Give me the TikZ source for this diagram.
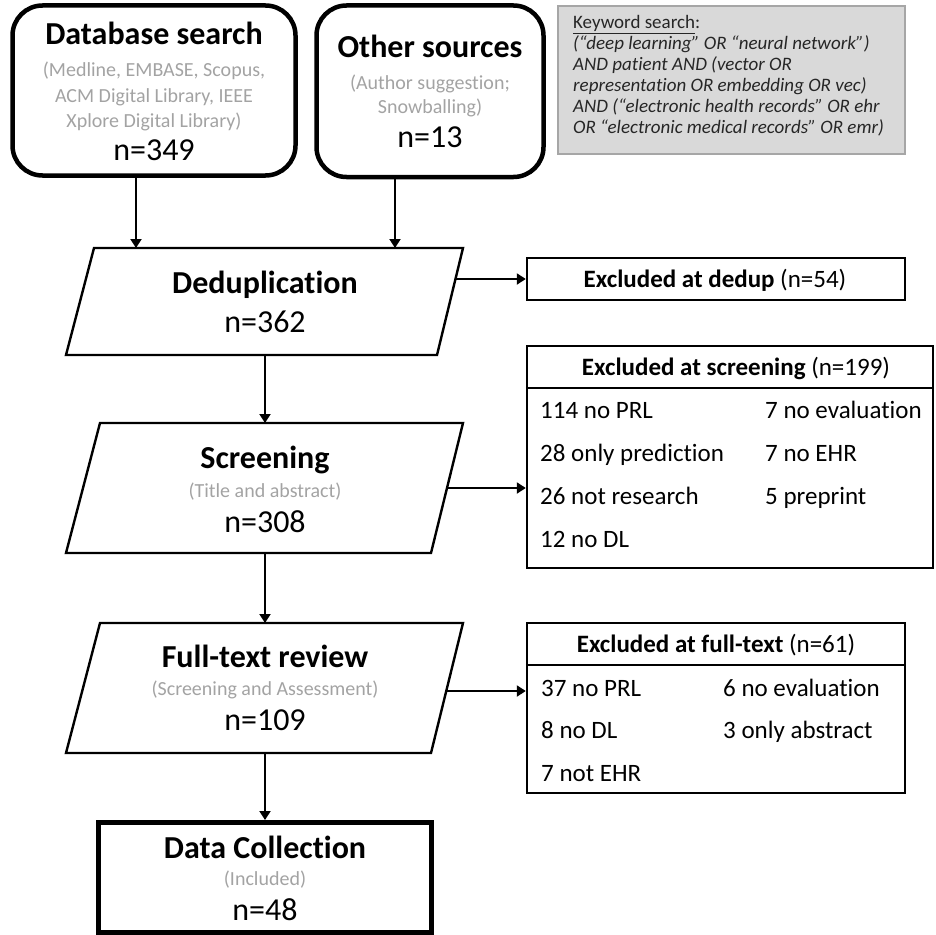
\documentclass[tikz,border=0pt]{standalone}
\usepackage{fontspec}
\setmainfont{Carlito}[Ligatures=NoCommon]
\usetikzlibrary{arrows.meta}
\definecolor{subgray}{HTML}{A3A3A3}
\definecolor{kwfill}{HTML}{D9D9D9}
\definecolor{kwline}{HTML}{A6A6A6}
\definecolor{kwtext}{HTML}{262626}
\begin{document}
\begin{tikzpicture}[x=1pt,y=-1pt,
  rbox/.style={draw, line width=4.5pt, rounded corners=30pt, inner sep=0},
  dbox/.style={draw, line width=5pt, inner sep=0},
  para/.style={draw, line width=2.4pt, line join=miter},
  xbox/.style={draw, line width=2.4pt, inner sep=0},
  xline/.style={line width=2.4pt},
  kwbox/.style={draw=kwline, fill=kwfill, line width=1.2pt, inner sep=0},
  arr/.style={line width=2pt, -{Triangle[width=11pt,length=9pt]}},
  ttl/.style={font=\fontsize{32}{36}\selectfont\bfseries, anchor=base, inner sep=0},
  num/.style={font=\fontsize{32}{36}\selectfont, anchor=base, inner sep=0},
  sub/.style={font=\fontsize{20}{24}\selectfont, text=subgray, anchor=base, inner sep=0},
  xhead/.style={font=\fontsize{25}{29}\selectfont, anchor=base, inner sep=0},
  xrow/.style={font=\fontsize{25}{29}\selectfont, anchor=base west, inner sep=0},
  kwt/.style={font=\fontsize{19}{22}\selectfont\itshape, text=kwtext, anchor=base west, inner sep=0}
]
\useasboundingbox (0,0) rectangle (936,934);

% --- top sources ---
\node[rbox, minimum width=283pt, minimum height=170pt] (db) at (154,90.5) {};
\node[ttl] (dbT) at (154,45) {Database search};
\node[sub] (dbS1) at (154,77) {(Medline, EMBASE, Scopus,};
\node[sub] (dbS2) at (154,102) {ACM Digital Library, IEEE};
\node[sub] (dbS3) at (154,127) {Xplore Digital Library)};
\node[num] (dbN) at (154,160) {n=349};

\node[rbox, minimum width=227pt, minimum height=171.5pt] (other) at (430,91.25) {};
\node[ttl] (oT) at (430,58) {Other sources};
\node[sub] (oS1) at (430,89) {(Author suggestion;};
\node[sub] (oS2) at (430,113) {Snowballing)};
\node[num] (oN) at (430,147) {n=13};

% --- keyword box ---
\node[kwbox, minimum width=347pt, minimum height=148pt] (kw) at (731.5,80) {};
\node[kwt, font=\fontsize{19}{22}\selectfont\upshape] (kw1) at (573,29) {\underline{Keyword search}:};
\node[kwt] (kw2) at (573,49.8) {(“deep learning” OR “neural network”)};
\node[kwt] (kw3) at (573,70.6) {AND patient AND (vector OR};
\node[kwt] (kw4) at (573,91.4) {representation OR embedding OR vec)};
\node[kwt] (kw5) at (573,112.2) {AND (“electronic health records” OR ehr};
\node[kwt] (kw6) at (573,133) {OR “electronic medical records” OR emr)};

% --- deduplication ---
\draw[para] (94,248) coordinate (ded-tl) -- (463,248) coordinate (ded-tr)
  -- (437,355) coordinate (ded-br) -- (66,355) coordinate (ded-bl) -- cycle;
\coordinate (dedIn1) at (136,248);
\coordinate (dedIn2) at (395,248);
\coordinate (dedOut) at (265,355);
\coordinate (dedR) at (455.5,279);
\node[ttl] (dedT) at (265,293) {Deduplication};
\node[num] (dedN) at (265,332) {n=362};

% --- screening ---
\draw[para] (100,423) coordinate (scr-tl) -- (463,423) coordinate (scr-tr)
  -- (431,553) coordinate (scr-br) -- (66,553) coordinate (scr-bl) -- cycle;
\coordinate (sIn) at (265,423);
\coordinate (sOut) at (265,553);
\coordinate (sR) at (447,488);
\node[ttl] (sT) at (265,468) {Screening};
\node[sub] (sS) at (265,497) {(Title and abstract)};
\node[num] (sN) at (265,532) {n=308};

% --- full-text ---
\draw[para] (100,623) coordinate (ful-tl) -- (463,623) coordinate (ful-tr)
  -- (431,753) coordinate (ful-br) -- (66,753) coordinate (ful-bl) -- cycle;
\coordinate (fIn) at (265,623);
\coordinate (fOut) at (265,753);
\coordinate (fR) at (446.3,691);
\node[ttl] (fT) at (265,667) {Full-text review};
\node[sub] (fS) at (265,695) {(Screening and Assessment)};
\node[num] (fN) at (265,730) {n=109};

% --- data collection ---
\node[dbox, minimum width=333pt, minimum height=110pt] (data) at (265,877.5) {};
\node[ttl] (dT) at (265,858) {Data Collection};
\node[sub] (dS) at (265,885) {(Included)};
\node[num] (dN) at (265,920) {n=48};

% --- exclusion boxes ---
\node[xbox, minimum width=378pt, minimum height=42pt] (exded) at (716,279) {};
\node[xhead] (exdedT) at (715,287) {\textbf{Excluded at dedup} (n=54)};

\node[xbox, minimum width=406pt, minimum height=222pt] (exscr) at (730,457) {};
\draw[xline] (exscr.west |- 0,388) -- (exscr.east |- 0,388);
\node[xhead] (exscrT) at (736,375) {\textbf{Excluded at screening} (n=199)};
\node[xrow] (es1) at (540,418) {114 no PRL};
\node[xrow] (es2) at (540,461) {28 only prediction};
\node[xrow] (es3) at (540,504) {26 not research};
\node[xrow] (es4) at (540,547) {12 no DL};
\node[xrow] (es5) at (765,418) {7 no evaluation};
\node[xrow] (es6) at (765,461) {7 no EHR};
\node[xrow] (es7) at (765,504) {5 preprint};

\node[xbox, minimum width=378pt, minimum height=170pt] (exful) at (716,708) {};
\draw[xline] (exful.west |- 0,665) -- (exful.east |- 0,665);
\node[xhead] (exfulT) at (716,652) {\textbf{Excluded at full-text} (n=61)};
\node[xrow] (ef1) at (541,696) {37 no PRL};
\node[xrow] (ef2) at (541,738) {8 no DL};
\node[xrow] (ef3) at (541,781) {7 not EHR};
\node[xrow] (ef4) at (723,696) {6 no evaluation};
\node[xrow] (ef5) at (723,738) {3 only abstract};

% --- connectors ---
\draw[arr] (db.south -| dedIn1) -- (dedIn1);
\draw[arr] (other.south -| dedIn2) -- (dedIn2);
\draw[arr] (dedOut) -- (sIn);
\draw[arr] (sOut) -- (fIn);
\draw[arr] (fOut) -- (data.north);
\draw[arr] (dedR) -- (exded.west);
\draw[arr] (sR) -- (sR -| exscr.west);
\draw[arr] (fR) -- (fR -| exful.west);
\end{tikzpicture}
\end{document}
